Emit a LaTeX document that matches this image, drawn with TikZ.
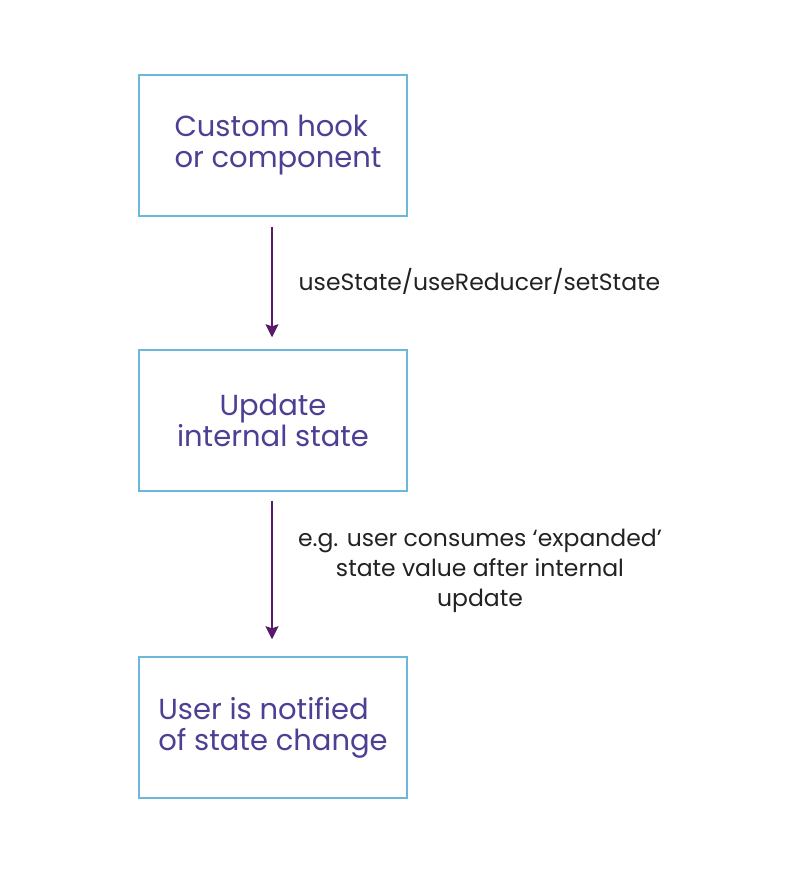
\documentclass[tikz,border=0pt]{standalone}
\usepackage{fontspec}
\setmainfont{Poppins}
\usetikzlibrary{arrows.meta}
\definecolor{boxline}{HTML}{6BB8D8}
\definecolor{boxtext}{HTML}{4E3F94}
\definecolor{arrowc}{HTML}{5A1A6A}
\definecolor{labeltext}{HTML}{222222}
\begin{document}
\begin{tikzpicture}[x=1pt,y=-1pt,
  stepbox/.style={draw=boxline, line width=1.5pt, minimum width=268pt, minimum height=141pt,
    font=\fontsize{29}{31}\selectfont, text=boxtext, align=center, inner sep=0pt},
  flow/.style={draw=arrowc, line width=1.5pt, -{Stealth[length=13pt,width=13pt,inset=2pt]}},
  lbl/.style={font=\fontsize{23.5}{30}\selectfont, text=labeltext, align=center, inner sep=0pt}]
\useasboundingbox (0,0) rectangle (790,892);
\node[stepbox, align=left] (a) at (273,145.5) {\hspace*{10pt}Custom hook\\\hspace*{10pt}or component};
\node[stepbox] (b) at (273,420.5) {Update\\internal state};
\node[stepbox, align=left] (c) at (273,727.5) {User is notified\\of state change};
\draw[flow, shorten <=10pt, shorten >=12pt] ([xshift=-1pt]a.south) -- ([xshift=-1pt]b.north);
\draw[flow, shorten <=9pt, shorten >=17pt] ([xshift=-1pt]b.south) -- ([xshift=-1pt]c.north);
\node[lbl] (l1) at (479.5,281) {useState/useReducer/setState};
\node[lbl] (l2) at (480,571) {e.g. user consumes ‘expanded’\\state value after internal\\update};
\end{tikzpicture}
\end{document}
